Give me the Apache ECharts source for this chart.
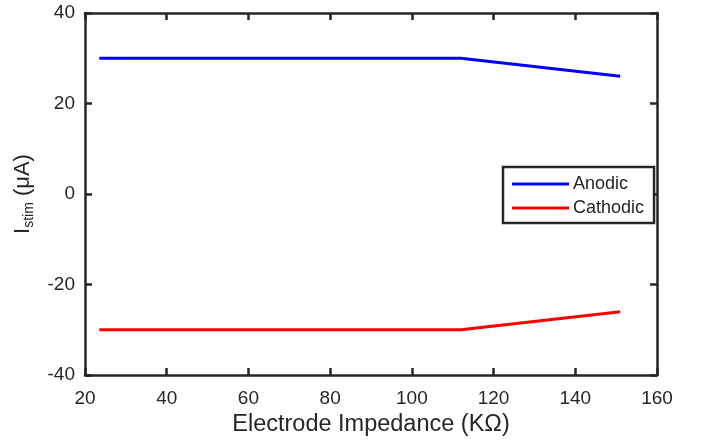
<!DOCTYPE html>
<html>
<head>
<meta charset="utf-8">
<script src="https://cdn.jsdelivr.net/npm/echarts@6/dist/echarts.min.js"></script>
<style>
	html, body { margin: 0; padding: 0; background: #fff; }
	#chart { width: 706px; height: 442px; }
</style>
</head>
<body>
<div id="chart"></div>
<script>
	// impedance in kOhm, current in uA
	var impedance = [23.5, 112, 151];
	var anodic = [30, 30, 26];
	var cathodic = [-30, -30, -26];
	var seriesNames = ['Anodic', 'Cathodic'];

	var axisColor = '#262626';
	var font = 'Liberation Sans, Arial, Helvetica, sans-serif';

	function pairs(xs, ys) {
		return xs.map(function(x, i) {
			return [x, ys[i]];
		});
	}

	var boxAxis = {
		axisLine: { show: true, onZero: false, lineStyle: { color: axisColor, width: 2.5 } },
		axisTick: { show: true, inside: true, length: 7, lineStyle: { color: axisColor, width: 2.5 } },
		splitLine: { show: false }
	};

	var chart = echarts.init(document.getElementById('chart'));
	chart.setOption({
		animation: false,
		textStyle: { fontFamily: font },
		grid: { left: 85, right: 49, top: 13, bottom: 67, outerBoundsMode: 'none', containLabel: false },
		legend: {
			orient: 'vertical',
			left: 503,
			top: 167,
			data: seriesNames,
			icon: 'rect',
			itemWidth: 57,
			itemHeight: 3,
			itemGap: 6,
			padding: [8, 10, 6, 9],
			borderColor: axisColor,
			borderWidth: 2.5,
			backgroundColor: '#fff',
			textStyle: { color: '#262626', fontSize: 18, fontFamily: font, padding: [0, 0, 0, -1] }
		},
		xAxis: [
			Object.assign({
				type: 'value', min: 20, max: 160, interval: 20,
				name: 'Electrode Impedance (KΩ)',
				nameLocation: 'middle',
				nameGap: 38,
				nameTextStyle: { color: '#262626', fontSize: 23.5 },
				axisLabel: { color: '#262626', fontSize: 19, margin: 14 }
			}, boxAxis),
			Object.assign({
				type: 'value', min: 20, max: 160, interval: 20, position: 'top',
				axisLabel: { show: false }
			}, boxAxis)
		],
		yAxis: [
			Object.assign({
				type: 'value', min: -40, max: 40, interval: 20,
				name: '{a|I}{b|stim}{a| (μA)}',
				nameLocation: 'middle',
				nameGap: 40,
				nameTextStyle: {
					rich: {
						a: { fontSize: 22, color: '#262626', fontFamily: font, lineHeight: 26 },
						b: { fontSize: 14, color: '#262626', fontFamily: font, padding: [13, 0, 0, 0] }
					}
				},
				axisLabel: { color: '#262626', fontSize: 19, margin: 10 }
			}, boxAxis),
			Object.assign({
				type: 'value', min: -40, max: 40, interval: 20, position: 'right',
				axisLabel: { show: false }
			}, boxAxis)
		],
		series: [
			{
				name: seriesNames[0],
				type: 'line',
				data: pairs(impedance, anodic),
				showSymbol: false,
				color: '#0000ff',
				lineStyle: { color: '#0000ff', width: 3 }
			},
			{
				name: seriesNames[1],
				type: 'line',
				data: pairs(impedance, cathodic),
				showSymbol: false,
				color: '#ff0000',
				lineStyle: { color: '#ff0000', width: 3 }
			}
		]
	});
</script>
</body>
</html>
